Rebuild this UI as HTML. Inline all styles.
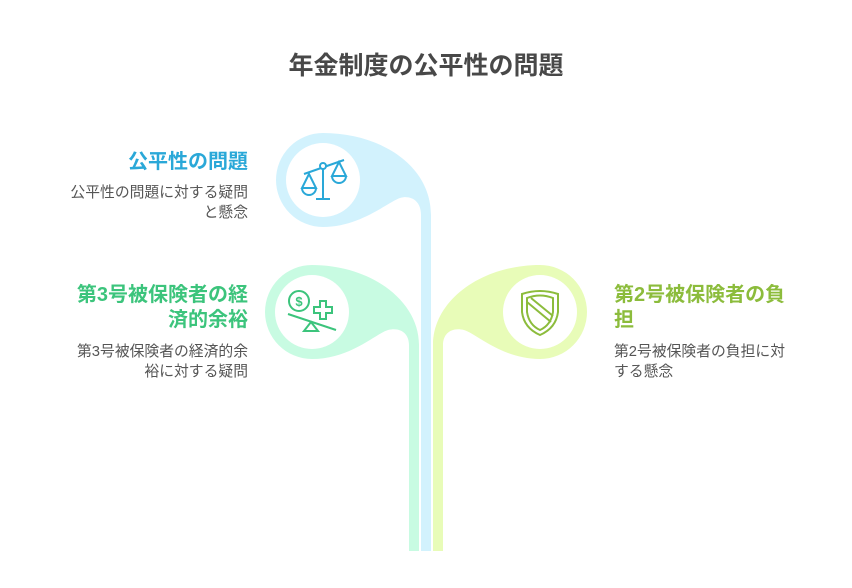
<!DOCTYPE html>
<html><head><meta charset="utf-8"><style>
body{margin:0;width:852px;height:588px;background:#fff;position:relative;overflow:hidden;font-family:"Liberation Sans","Noto Sans CJK JP",sans-serif}
.t{position:absolute;white-space:nowrap}
h1{position:absolute;left:0;width:852px;top:50px;margin:0;text-align:center;font-size:25px;color:#484848;font-weight:bold;line-height:32px}
.hd{font-size:20px;font-weight:bold;line-height:25px}
.ds{font-size:14.8px;color:#555;line-height:20px}
.r{text-align:right}
</style></head><body>
<svg width="852" height="588" style="position:absolute;left:0;top:0">
<path d="M323,133 C380,133 431,165 431,215 L431,551 L421,551 L421,215 C421,200 410,195 400,198 C388,202 360,227 323,227 A47,47 0 0 1 323,133Z" fill="#d2f2fd"/>
<circle cx="323" cy="180" r="37" fill="#fff"/>
<path d="M312,265 C370,265 419,300 419,345 L419,551 L409,551 L409,345 C409,333 400,327 388,330 C375,334 350,359 312,359 A47,47 0 0 1 312,265Z" fill="#c8fbe2"/>
<circle cx="312" cy="312" r="37" fill="#fff"/>
<path d="M540,265 C482,265 433,300 433,345 L433,551 L443,551 L443,345 C443,333 452,327 464,330 C477,334 502,359 540,359 A47,47 0 0 0 540,265Z" fill="#e8fcb8"/>
<circle cx="540" cy="312" r="37" fill="#fff"/>
<g stroke="#2aa8d8" stroke-width="2" fill="none">
<line x1="304" y1="174" x2="344" y2="160"/><circle cx="323" cy="166" r="3" fill="#fff"/>
<line x1="323" y1="169" x2="323" y2="199"/><line x1="316" y1="199" x2="330" y2="199"/>
<path d="M309,174 L302,188 L316,188Z M302,188 A7,7 0 0 0 316,188"/>
<path d="M339,162 L332,176 L346,176Z M332,176 A7,7 0 0 0 346,176"/>
</g>
<g stroke="#3cc47c" stroke-width="2" fill="none">
<circle cx="299" cy="301" r="10"/><text x="299" y="306" font-size="13" fill="#3cc47c" stroke="none" text-anchor="middle" font-weight="bold">$</text>
<path d="M320,301 h6 v6 h6 v6 h-6 v6 h-6 v-6 h-6 v-6 h6z"/>
<line x1="288" y1="314" x2="336" y2="330"/><path d="M311,322 L304,331 L318,331Z"/>
</g>
<g stroke="#8cbc3c" stroke-width="2" fill="none">
<path d="M522,294 Q540,288 558,294 L558,312 Q556,328 540,335 Q524,328 522,312Z"/>
<path d="M527,298 Q540,293 553,298 L553,312 Q551,325 540,330 Q529,325 527,312Z"/>
<line x1="527" y1="302" x2="551" y2="322"/><line x1="531" y1="298" x2="553" y2="316"/>
</g>
</svg>
<h1>年金制度の公平性の問題</h1>
<div class="t hd r" style="right:604px;top:150px;color:#2aa8d8">公平性の問題</div>
<div class="t ds r" style="right:604px;top:183px">公平性の問題に対する疑問<br>と懸念</div>
<div class="t hd r" style="right:604px;top:283px;color:#3cc47c">第3号被保険者の経<br>済的余裕</div>
<div class="t ds r" style="right:604px;top:342px">第3号被保険者の経済的余<br>裕に対する疑問</div>
<div class="t hd" style="left:614px;top:283px;color:#8cbc3c">第2号被保険者の負<br>担</div>
<div class="t ds" style="left:614px;top:342px">第2号被保険者の負担に対<br>する懸念</div>
</body></html>
